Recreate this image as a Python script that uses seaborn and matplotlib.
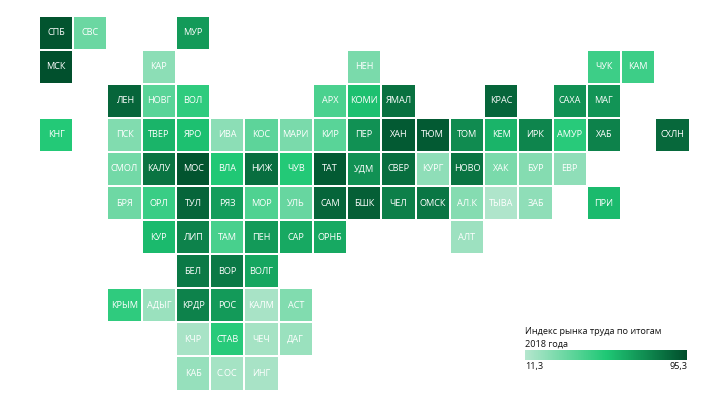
import numpy as np
import seaborn as sns
import matplotlib.pyplot as plt
from matplotlib.colors import LinearSegmentedColormap

# tile grid of regions, blank = no tile
labels = [
    ['СПБ', 'СВС', '', '', 'МУР', '', '', '', '', '', '', '', '', '', '', '', '', '', ''],
    ['МСК', '', '', 'КАР', '', '', '', '', '', 'НЕН', '', '', '', '', '', '', 'ЧУК', 'КАМ', ''],
    ['', '', 'ЛЕН', 'НОВГ', 'ВОЛ', '', '', '', 'АРХ', 'КОМИ', 'ЯМАЛ', '', '', 'КРАС', '', 'САХА', 'МАГ', '', ''],
    ['КНГ', '', 'ПСК', 'ТВЕР', 'ЯРО', 'ИВА', 'КОС', 'МАРИ', 'КИР', 'ПЕР', 'ХАН', 'ТЮМ', 'ТОМ', 'КЕМ', 'ИРК', 'АМУР', 'ХАБ', '', 'СХЛН'],
    ['', '', 'СМОЛ', 'КАЛУ', 'МОС', 'ВЛА', 'НИЖ', 'ЧУВ', 'ТАТ', 'УДМ', 'СВЕР', 'КУРГ', 'НОВО', 'ХАК', 'БУР', 'ЕВР', '', '', ''],
    ['', '', 'БРЯ', 'ОРЛ', 'ТУЛ', 'РЯЗ', 'МОР', 'УЛЬ', 'САМ', 'БШК', 'ЧЕЛ', 'ОМСК', 'АЛ.К', 'ТЫВА', 'ЗАБ', '', 'ПРИ', '', ''],
    ['', '', '', 'КУР', 'ЛИП', 'ТАМ', 'ПЕН', 'САР', 'ОРНБ', '', '', '', 'АЛТ', '', '', '', '', '', ''],
    ['', '', '', '', 'БЕЛ', 'ВОР', 'ВОЛГ', '', '', '', '', '', '', '', '', '', '', '', ''],
    ['', '', 'КРЫМ', 'АДЫГ', 'КРДР', 'РОС', 'КАЛМ', 'АСТ', '', '', '', '', '', '', '', '', '', '', ''],
    ['', '', '', '', 'КЧР', 'СТАВ', 'ЧЕЧ', 'ДАГ', '', '', '', '', '', '', '', '', '', '', ''],
    ['', '', '', '', 'КАБ', 'С.ОС', 'ИНГ', '', '', '', '', '', '', '', '', '', '', '', ''],
]

N = np.nan
values = [
    [93, 32, N, N, 69, N, N, N, N, N, N, N, N, N, N, N, N, N, N],
    [94, N, N, 23, N, N, N, N, N, 28, N, N, N, N, N, N, 45, 45, N],
    [N, N, 87, 37, 49, N, N, N, 41, 56, 83, N, N, 87, N, 72, 71, N, N],
    [52, N, 26, 60, 56, 23, 36, 28, 37, 72, 91, 91, 74, 60, 76, 51, 77, N, 86],
    [N, N, 30, 82, 93, 53, 84, 52, 91, 72, 84, 22, 82, 28, 25, 22, N, N, N],
    [N, N, 31, 46, 87, 68, 40, 33, 87, 89, 78, 81, 25, 13, 22, N, 58, N, N],
    [N, N, N, 58, 77, 42, 69, 64, 64, N, N, N, 18, N, N, N, N, N, N],
    [N, N, N, N, 80, 80, 65, N, N, N, N, N, N, N, N, N, N, N, N],
    [N, N, 49, 19, 77, 69, 15, 26, N, N, N, N, N, N, N, N, N, N, N],
    [N, N, N, N, 15, 51, 16, 19, N, N, N, N, N, N, N, N, N, N, N],
    [N, N, N, N, 20, 16, 15, N, N, N, N, N, N, N, N, N, N, N, N],
]

index_min = 11.3
index_max = 95.3
legend_title = 'Индекс рынка труда по итогам\n2018 года'
legend_ticks = ['11,3', '95,3']

sns.set_theme(style='white')
plt.rcParams['font.family'] = ['Open Sans', 'DejaVu Sans']

cmap = LinearSegmentedColormap.from_list('rynok', ['#b5e6ce', '#1fc875', '#004d2b'])

W, H = 720, 405
fig = plt.figure(figsize=(W / 100, H / 100), dpi=100)
ax = fig.add_axes([39 / W, 1 - 390.5 / H, 650.5 / W, 375 / H])
cax = fig.add_axes([525 / W, 1 - 360 / H, 162 / W, 10 / H])

sns.heatmap(np.array(values, dtype=float), ax=ax, cmap=cmap, vmin=index_min, vmax=index_max,
            annot=np.array(labels), fmt='', annot_kws={'color': 'white', 'fontsize': 6.6},
            linewidths=1.4, linecolor='white', square=False,
            cbar_ax=cax, cbar_kws={'orientation': 'horizontal'},
            xticklabels=False, yticklabels=False)

# seaborn picks dark text on the pale tiles, the original keeps it all white
for t in ax.texts:
    t.set_color('white')

cbar = ax.collections[0].colorbar
cbar.outline.set_visible(False)
cbar.set_ticks([index_min, index_max])
cbar.set_ticklabels(legend_ticks)
cax.tick_params(length=0, pad=1.5, labelsize=6.6, labelcolor='#111111')
tl = cax.get_xticklabels()
tl[0].set_ha('left')
tl[1].set_ha('right')

fig.text(525 / W, 1 - 327 / H, legend_title, fontsize=6.6, color='#111111',
         va='top', ha='left', linespacing=1.55)

fig.savefig('out.png', dpi=100)
